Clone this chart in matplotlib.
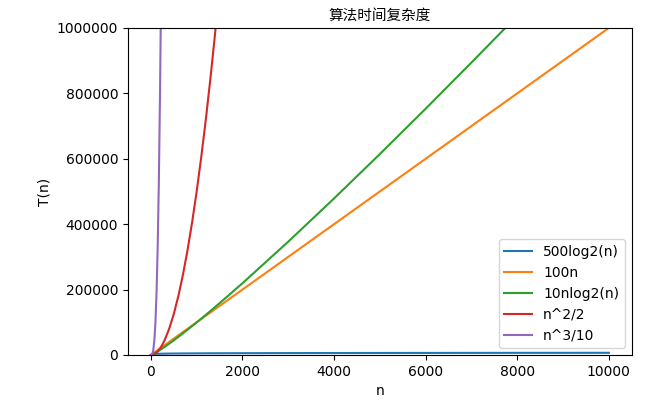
import matplotlib
matplotlib.use('Agg')
from matplotlib import pyplot as plt

# sample points
n = [1, 25, 50, 75, 100, 125, 150, 175, 200, 225, 250, 300, 400, 500, 600, 700, 800,
     900, 1000, 1100, 1200, 1300, 1400, 1500, 2000, 3000, 4000, 5000, 6000, 7000,
     8000, 9000, 10000]

t_log = [0, 2322, 2822, 3114, 3322, 3483, 3614, 3725, 3822, 3907, 3983, 4114, 4322,
         4483, 4614, 4725, 4822, 4907, 4983, 5052, 5114, 5172, 5225, 5275, 5483, 5776,
         5983, 6144, 6276, 6387, 6483, 6568, 6644]
t_lin = [100, 2500, 5000, 7500, 10000, 12500, 15000, 17500, 20000, 22500, 25000, 30000,
         40000, 50000, 60000, 70000, 80000, 90000, 100000, 110000, 120000, 130000,
         140000, 150000, 200000, 300000, 400000, 500000, 600000, 700000, 800000,
         900000, 1000000]
t_nlog = [0, 1161, 2822, 4671, 6644, 8707, 10842, 13038, 15288, 17584, 19932, 24686,
          34576, 44829, 55370, 66150, 77151, 88331, 99658, 111135, 122740, 134464,
          146300, 158245, 219316, 346529, 478631, 614386, 753059, 894209, 1037262,
          1182217, 1328771]
t_sq = [0.5, 312, 1250, 2812, 5000, 7812, 11250, 15312, 20000, 25312, 31250, 45000,
        80000, 125000, 180000, 245000, 320000, 405000, 500000, 605000, 720000, 845000,
        980000, 1125000, 2000000, 4500000, 8000000, 12500000, 18000000, 24500000,
        32000000, 40500000, 50000000]
t_cube = [0.1, 1562, 12500, 42188, 100000, 195312, 337500, 535938, 800000, 1139062,
          1562500, 2700000, 6400000, 12500000, 21600000, 34300000, 51200000, 72900000,
          100000000, 133100000, 172800000, 219700000, 274400000, 337500000, 800000000,
          2700000000, 6400000000, 12500000000, 21600000000, 34300000000, 51200000000,
          72900000000, 100000000000]

labels = ['500log2(n)', '100n', '10nlog2(n)', 'n^2/2', 'n^3/10']

fig = plt.figure(figsize=(6.65, 4.05), dpi=100)
ax = fig.add_axes([0.1925, 0.1235, 0.7575, 0.8075])
for ys, lab in zip([t_log, t_lin, t_nlog, t_sq, t_cube], labels):
    ax.plot(n, ys, label=lab)
ax.set_ylim(0, 1000000)
ax.ticklabel_format(style='plain', axis='y')
ax.set_title('算法时间复杂度', fontsize=10.5, family=['Noto Sans CJK SC', 'DejaVu Sans'])
ax.set_xlabel('n')
ax.set_ylabel('T(n)')
ax.legend(loc='lower right')

fig.savefig('out.png', dpi=100)
